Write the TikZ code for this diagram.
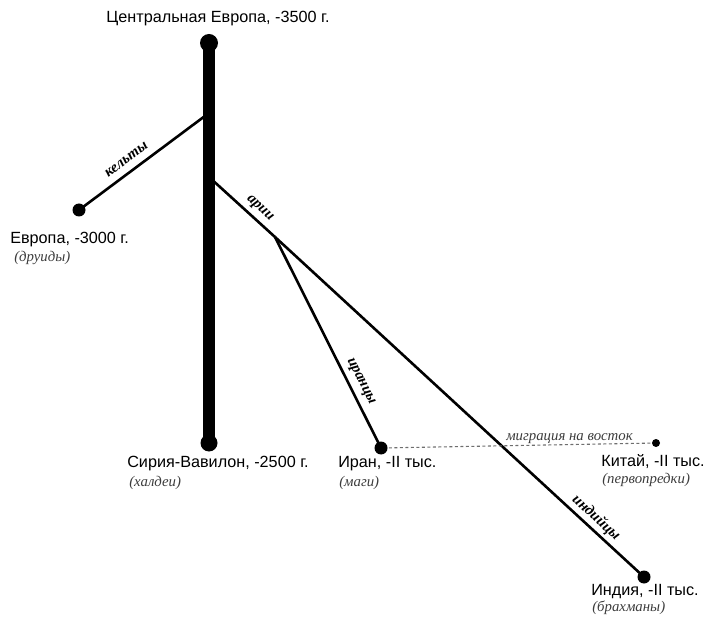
\documentclass[tikz,border=0pt]{standalone}
\usepackage{fontspec}
\setmainfont{Liberation Sans}
\newfontfamily\notefont{Liberation Serif}
\usetikzlibrary{positioning}
\definecolor{dashgrey}{RGB}{110,110,110}
\definecolor{notegrey}{RGB}{60,60,60}

\tikzset{
  dot/.style={circle,fill=black,inner sep=0pt,minimum size=#1},
  dot/.default=13pt,
  place/.style={font=\fontsize{16.2}{18}\selectfont,inner sep=0pt,anchor=base west},
  note/.style={font=\notefont\itshape\fontsize{14.8}{16}\selectfont,text=notegrey,inner sep=0pt,anchor=base west},
  tribe/.style={font=\notefont\bfseries\itshape\fontsize{15}{16}\selectfont,sloped,above,inner sep=5pt},
}

\begin{document}
\begin{tikzpicture}[x=1pt,y=-1pt,line width=2.6pt]
  \useasboundingbox (0,0) rectangle (704,617);
  % points of origin and arrival
  \node[dot=18pt] (cent) at (209,43) {};
  \node[dot=17pt] (syria) at (209,443) {};
  \node[dot] (europe) at (79,210) {};
  \node[dot] (iran) at (381,448) {};
  \node[dot=8pt] (china) at (656,443) {};
  \node[dot] (india) at (644,577) {};
  \coordinate (celtfork) at (209,113);
  \coordinate (ariifork) at (209,177);
  \coordinate (iranfork) at (275,237);

  % routes
  \draw[line width=12pt] (cent.center) -- (syria.center);
  \draw (celtfork) -- (europe.center)
    node[tribe,pos=0.58,inner sep=7pt] {кельты};
  \draw (ariifork) -- (iranfork)
    node[tribe,pos=0.66,inner sep=4pt] {арии};
  \draw (iranfork) -- (india.center)
    node[tribe,pos=0.85,inner sep=3pt] {индийцы};
  \draw (iranfork) -- (iran.center)
    node[tribe,pos=0.71] {иранцы};
  \draw[dashgrey,line width=1.1pt,dash pattern=on 3pt off 2.5pt] (iran) -- (china)
    node[note,pos=0.69,anchor=base,yshift=4pt] (eastnote) {миграция на восток};

  % labels
  \node[place,anchor=base] (centlab) at (218,23) {Центральная Европа, -3500 г.};
  \foreach \n/\x/\y/\cx/\cy/\lab/\com in {europe/9/244/13/262/{Европа, -3000 г.}/{(друиды)},
      syria/126/467/128/486/{Сирия-Вавилон, -2500 г.}/{(халдеи)},
      iran/337/467/338/486/{Иран, -II тыс.}/{(маги)},
      china/600/466/601/483/{Китай, -II тыс.}/{(первопредки)},
      india/590/595/591/611/{Индия, -II тыс.}/{(брахманы)}}
    {\node[place] (\n lab) at (\x,\y) {\lab};
     \node[note] (\n com) at (\cx,\cy) {\com};}
\end{tikzpicture}
\end{document}
